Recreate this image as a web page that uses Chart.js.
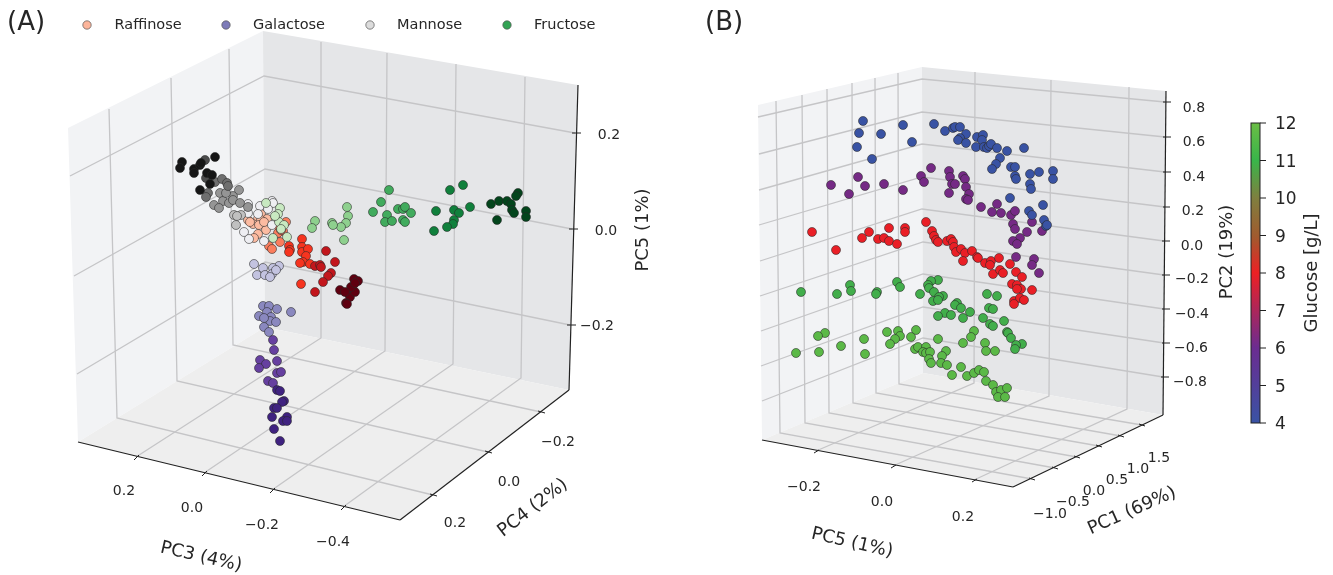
<!DOCTYPE html>
<html><head><meta charset="utf-8">
<style>html,body{margin:0;padding:0;background:#fff}canvas{display:block}</style>
<script src="https://cdn.jsdelivr.net/npm/chart.js@4"></script></head>
<body><canvas id="c" width="1333" height="575"></canvas>
<script>
// Values: projected plane position and, for (A), concentration level.
const raffinose=[[248,220,0],[261,214,0],[267,219,0],[258,219,0],[261,220,0],[253,224,0],[259,225,0],[266,230,0],[258,234,0],[254,238,0],[264,222,0],[250,222,0],
[286,222,1],[279,227,1],[283,231,1],[278,233,1],[280,242,1],[269,246,1],[272,249,1],[281,230,1],
[289,246,2],[290,250,2],[289,252,2],[302,239,2],[302,247,2],[302,252,2],[308,249,2],[306,256,2],[303,262,2],[300,263,2],[310,264,2],[301,284,2],
[315,266,3],[320,265,3],[321,267,3],[326,251,3],[335,262,3],[331,273,3],[328,276,3],[323,282,3],[315,292,3],
[340,290,4],[354,279,4],[358,281,4],[353,290,4],[348,293,4],[350,297,4],[346,303,4],[347,304,4],[355,292,4],[351,287,4],[355,283,4],[345,292,4]];
const galactose=[[254,264,0],[263,268,0],[279,266,0],[273,268,0],[257,275,0],[265,275,0],[272,274,0],[270,277,0],[276,270,0],
[263,306,1],[269,306,1],[277,309,1],[267,312,1],[291,312,1],[259,316,1],[271,317,1],[270,321,1],[276,322,1],[264,327,1],[269,332,1],[264,318,1],
[273,340,2],[274,350,2],[260,360,2],[266,364,2],[259,368,2],[277,361,2],[277,373,2],[281,372,2],[268,381,2],[273,383,2],
[277,390,3],[280,391,3],[284,401,3],[282,402,3],[274,408,3],[277,408,3],[272,417,3],[287,417,3],[283,421,3],[287,421,3],[274,429,3],[280,441,3]];
const mannose=[[248,204,0],[260,206,0],[272,201,0],[273,203,0],[268,209,0],[244,232,0],[249,239,0],[264,241,0],[272,225,0],[258,214,0],[248,213,0],
[234,215,1],[241,215,1],[236,225,1],[237,216,1],
[220,193,2],[233,196,2],[239,190,2],[223,201,2],[214,205,2],[219,208,2],[229,203,2],[233,200,2],[240,203,2],[226,193,2],[248,207,2],
[215,182,3],[222,179,3],[227,183,3],[228,186,3],[208,193,3],[206,197,3],
[205,160,4],[206,178,4],
[182,162,5],[180,168,5],[194,169,5],[194,173,5],[200,165,5],[201,163,5],[215,157,5],[207,173,5],[212,175,5],[210,184,5],[200,190,5]];
const fructose=[[280,208,0],[278,214,0],[266,203,0],[279,222,0],[273,238,0],[287,237,0],[284,225,0],[275,216,0],[281,229,0],
[347,207,1],[348,216,1],[346,223,1],[341,227,1],[332,223,1],[333,225,1],[344,240,1],[315,221,1],[312,228,1],
[389,190,2],[381,202,2],[373,212,2],[387,215,2],[398,209,2],[403,209,2],[405,207,2],[411,213,2],[385,222,2],[392,221,2],[403,220,2],[405,222,2],
[450,190,3],[463,185,3],[436,211,3],[454,210,3],[459,213,3],[470,207,3],[454,220,3],[453,224,3],[447,227,3],[434,231,3],
[491,204,4],[499,201,4],[507,201,4],[511,204,4],[518,193,4],[516,196,4],[512,210,4],[514,213,4],[526,211,4],[526,217,4],[497,220,4]];
const glucose4=[[863,121],[859,133],[881,134],[903,125],[857,147],[872,159],[912,142],[934,124],[945,131],[953,128],[955,127],[960,127],[966,134],[960,138],[958,140],[966,143],[977,137],[983,135],[982,140],[976,147],[984,147],[987,148],[989,146],[991,144],[997,148],[1007,151],[1024,148],[1000,158],[996,164],[992,169],[1011,167],[1015,167],[1015,176],[1016,179],[1030,174],[1039,172],[1053,171],[1053,179],[1030,184],[1031,189],[1010,198],[1043,205],[1029,211],[1032,215],[1044,220],[1046,226],[1047,225]];
const glucose6=[[931,168],[921,176],[924,182],[858,177],[831,185],[865,186],[884,184],[849,194],[903,190],[949,171],[950,177],[952,184],[955,184],[963,176],[965,179],[966,187],[949,193],[969,194],[966,199],[968,200],[981,207],[997,204],[992,212],[1001,213],[1011,215],[1015,211],[1032,222],[1013,224],[1015,229],[1027,232],[1042,231],[1020,238],[1013,241],[1017,244],[1016,257],[1034,259],[1032,265],[1039,273]];
const glucose8=[[812,232],[869,232],[862,238],[889,228],[905,228],[905,232],[878,239],[884,238],[889,241],[897,244],[926,222],[932,231],[934,236],[936,240],[938,242],[947,241],[951,239],[953,242],[836,250],[954,247],[956,252],[961,249],[965,253],[972,251],[963,261],[977,257],[978,258],[985,263],[991,261],[990,265],[999,258],[1010,264],[993,274],[1000,270],[1003,273],[1016,272],[1022,277],[1012,284],[1017,285],[1021,289],[1017,289],[1032,290],[1014,301],[1020,298],[1024,300],[1014,304]];
const glucose11=[[938,280],[931,281],[928,285],[929,288],[897,282],[900,287],[850,285],[851,291],[801,292],[837,294],[877,292],[876,294],[920,294],[934,292],[943,296],[939,297],[933,301],[938,300],[987,294],[997,296],[957,303],[955,305],[961,308],[989,308],[993,309],[945,313],[951,315],[970,312],[938,316],[963,318],[983,318],[1004,321],[990,324],[993,326],[1007,332],[1008,333],[1011,338],[1022,344],[1016,345],[1015,349]];
const glucose12=[[974,331],[971,337],[938,339],[963,343],[985,343],[986,351],[995,351],[916,330],[887,332],[898,331],[900,336],[895,339],[890,344],[911,337],[825,333],[818,336],[864,339],[841,346],[796,353],[819,352],[865,354],[915,349],[918,347],[926,347],[923,352],[926,353],[930,352],[929,359],[931,363],[946,351],[942,356],[941,363],[947,365],[961,367],[952,375],[967,376],[974,373],[979,370],[984,372],[986,381],[993,385],[996,392],[1001,390],[1007,388],[998,397],[1005,397]];
const sugarNames=['Raffinose','Galactose','Mannose','Fructose'];
const colorbarTicks=[4,5,6,7,8,9,10,11,12];
const pc5TicksA=['0.2','0.0','\u22120.2'];
const pc3Ticks=['0.2','0.0','\u22120.2','\u22120.4'];
const pc4Ticks=['\u22120.2','0.0','0.2'];
const pc2Ticks=['0.8','0.6','0.4','0.2','0.0','\u22120.2','\u22120.4','\u22120.6','\u22120.8'];
const pc5TicksB=['\u22120.2','0.0','0.2'];
const pc1Ticks=['\u22121.0','\u22120.5','0.0','0.5','1.0','1.5'];

// Styles
const shades={
 raffinose:['#fcbba1','#fb7d5d','#f6341f','#c2161c','#5f0010'],
 galactose:['#c3c3e0','#8a88bf','#6640a0','#3f2280'],
 mannose:['#eeeef2','#c0c0c0','#959595','#6f6f6f','#4c4c4c','#161616'],
 fructose:['#c8e9c1','#8ed08e','#41ab5d','#10803c','#03451c']};
const legendColors=['#fcb59b','#7d7bb8','#dcdcdc','#33a354'];
const pane={left:'#f2f3f5',right:'#e5e6e8',floor:'#eeeeee'},gridC='#c5c5c7',axisC='#222222',txt='#262626';
const font='"DejaVu Sans"';

// Frame geometry for the two 3D boxes
const frameA={
 left:[[68,128],[263,31],[265,327],[78,442]],right:[[263,31],[578,85],[569,390],[265,327]],floor:[[78,442],[265,327],[569,390],[400,520]],
 grid:[[[70,176],[264,76],[575,133]],[[74,276],[265,169],[572,229]],[[77,374],[265,262],[570,325]],
  [[109,109],[117,418],[433,495]],[[171,78],[177,381],[488,452]],[[229,49],[233,345],[541,412]],
  [[321,42],[321,338],[136,457]],[[387,53],[385,351],[204,473]],[[456,64],[453,364],[272,490]],[[525,77],[521,378],[343,507]]],
 axes:[[[578,85],[569,390]],[[78,442],[400,520]],[[400,520],[569,390]]],
 ticks:[[[572,133],[581,133]],[[569,229],[578,229]],[[567,325],[576,325]],
  [[134,460],[139,455]],[[202,476],[207,471]],[[270,493],[275,488]],[[341,510],[346,505]],
  [[430,494],[437,496]],[[485,451],[492,453]],[[538,411],[545,413]]]};
const frameB={
 left:[[758,105],[922,67],[923,373],[762,440]],right:[[922,67],[1166,91],[1163,415],[923,373]],floor:[[762,440],[923,373],[1163,415],[1013,487]],
 grid:[[[758,117],[922,79],[1165,102]],[[759,154],[922,112],[1165,137]],[[759,190],[922,144],[1165,172]],[[759,225],[922,177],[1165,207]],[[760,261],[922,209],[1164,241]],[[760,296],[923,242],[1164,275]],[[761,331],[923,274],[1164,309]],[[761,366],[923,307],[1164,343]],[[762,401],[923,338],[1163,377]],
  [[776,101],[780,433],[1032,479]],[[802,95],[805,423],[1055,468]],[[827,89],[829,413],[1077,457]],[[852,83],[853,403],[1099,446]],[[875,78],[876,393],[1121,436]],[[898,73],[899,384],[1142,425]],
  [[975,72],[974,383],[816,451]],[[1051,80],[1049,396],[893,466]],[[1129,87],[1127,409],[974,480]]],
 axes:[[[1166,91],[1163,415]],[[762,440],[1013,487]],[[1013,487],[1163,415]]],
 ticks:[[[1163,102],[1171,102]],[[1163,137],[1171,137]],[[1163,172],[1171,172]],[[1163,207],[1170,207]],[[1162,241],[1170,241]],[[1162,275],[1170,275]],[[1162,309],[1170,309]],[[1162,343],[1170,343]],[[1161,377],[1169,377]],
  [[814,453],[819,450]],[[891,468],[896,465]],[[972,482],[977,479]],
  [[1029,478],[1035,480]],[[1052,467],[1058,469]],[[1074,456],[1080,458]],[[1096,445],[1102,447]],[[1118,435],[1124,437]],[[1139,424],[1145,426]]]};

function pts(arr){return arr.map(p=>({x:p[0],y:p[1],level:p[2]}));}
function sugarSet(name,arr,pal){return {label:name,data:pts(arr),
  backgroundColor:c=>pal[c.raw?c.raw.level:0],pointBackgroundColor:c=>pal[c.raw?c.raw.level:0]};}
function glucoseSet(name,arr,col){return {label:name,data:pts(arr),backgroundColor:col,pointBackgroundColor:col};}

const framePlugin={id:'frame',
 beforeDatasetsDraw(ch){
  const g=ch.ctx,X=ch.scales.x,Y=ch.scales.y,P=p=>[X.getPixelForValue(p[0]),Y.getPixelForValue(p[1])];
  const path=a=>{g.beginPath();a.forEach((p,i)=>{const q=P(p);i?g.lineTo(q[0],q[1]):g.moveTo(q[0],q[1]);});};
  [frameA,frameB].forEach(f=>{
   g.save();
   [['left',pane.left],['right',pane.right],['floor',pane.floor]].forEach(([k,c])=>{path(f[k]);g.closePath();g.fillStyle=c;g.fill();});
   g.strokeStyle=gridC;g.lineWidth=1.3;f.grid.forEach(l=>{path(l);g.stroke();});
   g.strokeStyle=axisC;g.lineWidth=1.2;f.axes.forEach(l=>{path(l);g.stroke();});
   g.lineWidth=1;f.ticks.forEach(l=>{path(l);g.stroke();});
   g.restore();
  });
  // colour bar
  const top=123,bot=423,x0=1251,x1=1260;
  const gr=g.createLinearGradient(0,bot,0,top);
  [['#3953a4',0],['#6b2c91',.25],['#ed2024',.5],['#a15a2e',.62],['#7f7f3f',.75],['#39b54a',.875],['#6abd45',1]].forEach(s=>gr.addColorStop(s[1],s[0]));
  g.save();g.fillStyle=gr;g.fillRect(x0,top,x1-x0,bot-top);
  g.strokeStyle=axisC;g.lineWidth=1;g.strokeRect(x0,top,x1-x0,bot-top);
  colorbarTicks.forEach(v=>{const y=bot-(v-4)/8*(bot-top);g.beginPath();g.moveTo(x1,y);g.lineTo(x1+6,y);g.stroke();
   label(g,String(v),1275,y+2,'17px',0,'left');});
  g.restore();
 },
 afterDatasetsDraw(ch){
  const g=ch.ctx;g.save();
  label(g,'(A)',7,23,'26px',0,'left');label(g,'(B)',705,23,'26px',0,'left');
  const lx=[87,226,370,507],tx=[114.5,253,397,534];
  sugarNames.forEach((n,i)=>{g.beginPath();g.arc(lx[i],25,4.2,0,7);g.fillStyle=legendColors[i];g.fill();g.lineWidth=.7;g.strokeStyle='#555';g.stroke();
   label(g,n,tx[i],25,'14.5px',0,'left');});
  const at=(arr,pos,size)=>arr.forEach((t,i)=>label(g,t,pos[i][0],pos[i][1],size||'14px',0,'center'));
  at(pc5TicksA,[[609,135],[606,231],[597,326]]);
  at(pc3Ticks,[[124,491],[192,508],[262,525],[333,542]]);
  at(pc4Ticks,[[558,442],[509,482],[455,523]]);
  at(pc2Ticks,[[1194,108],[1194,142],[1194,177],[1193,211],[1192,246],[1192,279],[1192,314],[1191,348],[1190,382]]);
  at(pc5TicksB,[[804,487],[882,502],[963,517]]);
  at(pc1Ticks,[[1050,514],[1073,502],[1094,491],[1117,480],[1138,469],[1159,458]]);
  label(g,'PC5 (1%)',643,230,'18px',-Math.PI/2,'center');
  label(g,'PC3 (4%)',201,557,'18px',13*Math.PI/180,'center');
  label(g,'PC4 (2%)',533,508,'18px',-38*Math.PI/180,'center');
  label(g,'PC2 (19%)',1227,252,'18px',-Math.PI/2,'center');
  label(g,'PC5 (1%)',852,543,'18px',13*Math.PI/180,'center');
  label(g,'PC1 (69%)',1132,511,'18px',-24*Math.PI/180,'center');
  label(g,'Glucose [g/L]',1312,273,'18px',-Math.PI/2,'center');
  g.restore();
 }};
function label(g,t,x,y,size,rot,align){g.save();g.translate(x,y);g.rotate(rot);g.font=size+' '+font;g.fillStyle=txt;g.textAlign=align;g.textBaseline='middle';g.fillText(t,0,0);g.restore();}

new Chart(document.getElementById('c'),{type:'scatter',
 data:{datasets:[
  sugarSet('Fructose',fructose,shades.fructose),
  sugarSet('Galactose',galactose,shades.galactose),
  sugarSet('Mannose',mannose,shades.mannose),
  sugarSet('Raffinose',raffinose,shades.raffinose),
  glucoseSet('4 g/L',glucose4,'#3953a4'),
  glucoseSet('6 g/L',glucose6,'#752a85'),
  glucoseSet('8 g/L',glucose8,'#ea1f26'),
  glucoseSet('11 g/L',glucose11,'#42ae4b'),
  glucoseSet('12 g/L',glucose12,'#5bb947')]},
 options:{responsive:false,animation:false,devicePixelRatio:1,
  layout:{padding:0,autoPadding:false},
  elements:{point:{radius:4.5,borderWidth:.7,borderColor:'rgba(40,40,40,.8)',hoverRadius:4.5}},
  plugins:{legend:{display:false},tooltip:{enabled:false},title:{display:false}},
  scales:{x:{type:'linear',min:0,max:1333,display:false},y:{type:'linear',min:0,max:575,reverse:true,display:false}}},
 plugins:[framePlugin]});
</script></body></html>
